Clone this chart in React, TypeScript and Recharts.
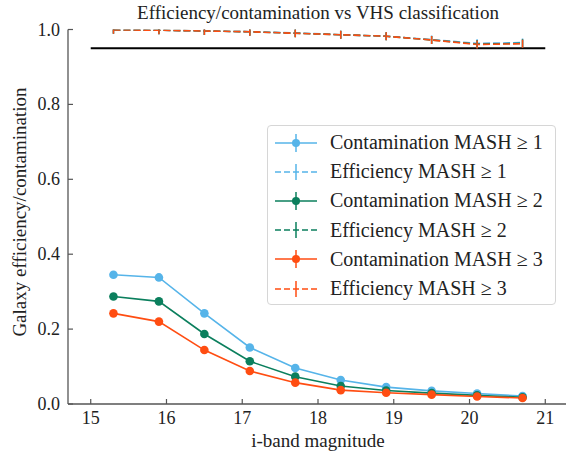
import React from "react"
import { LineChart, Line, XAxis, YAxis, ReferenceLine } from "recharts"

const magnitudes = [15.3, 15.9, 16.5, 17.1, 17.7, 18.3, 18.9, 19.5, 20.1, 20.7]
const contamination1 = [0.345, 0.338, 0.242, 0.151, 0.096, 0.064, 0.045, 0.035, 0.028, 0.021]
const contamination2 = [0.287, 0.274, 0.187, 0.114, 0.073, 0.048, 0.036, 0.029, 0.023, 0.018]
const contamination3 = [0.242, 0.22, 0.144, 0.088, 0.057, 0.037, 0.03, 0.025, 0.02, 0.016]
const efficiency1 = [0.999, 0.998, 0.996, 0.994, 0.991, 0.986, 0.982, 0.973, 0.963, 0.965]
const efficiency2 = [0.999, 0.998, 0.996, 0.994, 0.99, 0.986, 0.982, 0.972, 0.961, 0.963]
const efficiency3 = [0.999, 0.998, 0.996, 0.994, 0.99, 0.986, 0.982, 0.972, 0.96, 0.962]
const xTicks = [15, 16, 17, 18, 19, 20, 21]
const yTicks = [0, 0.2, 0.4, 0.6, 0.8, 1.0]
const threshold = 0.95

const BLUE = "#56B4E9"
const GREEN = "#0B7F5D"
const RED = "#FF4D12"
const AXIS = "#555"
const FONT = "'Liberation Serif', 'DejaVu Serif', serif"

const data = magnitudes.map((x, i) => ({
  x,
  c1: contamination1[i],
  c2: contamination2[i],
  c3: contamination3[i],
  e1: efficiency1[i],
  e2: efficiency2[i],
  e3: efficiency3[i],
}))

const series = [
  { key: "c1", name: "Contamination MASH \u2265 1", color: BLUE, dashed: false },
  { key: "e1", name: "Efficiency MASH \u2265 1", color: BLUE, dashed: true },
  { key: "c2", name: "Contamination MASH \u2265 2", color: GREEN, dashed: false },
  { key: "e2", name: "Efficiency MASH \u2265 2", color: GREEN, dashed: true },
  { key: "c3", name: "Contamination MASH \u2265 3", color: RED, dashed: false },
  { key: "e3", name: "Efficiency MASH \u2265 3", color: RED, dashed: true },
]

const BottomTick = ({ x, y, payload }: any) => (
  <g>
    <line x1={x} x2={x} y1={y} y2={y - 5} stroke={AXIS} strokeWidth={1.2} />
    <text x={x} y={y + 20} textAnchor="middle" fill="#222" fontSize={18} fontFamily={FONT}>
      {payload.value}
    </text>
  </g>
)

const TopTick = ({ x, y }: any) => (
  <line x1={x} x2={x} y1={y} y2={y + 5} stroke={AXIS} strokeWidth={1.2} />
)

const LeftTick = ({ x, y, payload }: any) => (
  <g>
    <line x1={x} x2={x + 5} y1={y} y2={y} stroke={AXIS} strokeWidth={1.2} />
    <text x={x - 8} y={y + 6} textAnchor="end" fill="#222" fontSize={18} fontFamily={FONT}>
      {Number(payload.value).toFixed(1)}
    </text>
  </g>
)

const plusDot = (color: string) => (props: any) => {
  const { cx, cy, index } = props
  return <line key={index} x1={cx} x2={cx} y1={cy - 4} y2={cy + 4} stroke={color} strokeWidth={1.5} />
}

const LegendBox = () => (
  <div
    style={{
      position: "absolute",
      left: 267,
      top: 125,
      width: 289,
      height: 180,
      boxSizing: "border-box",
      border: "1px solid #d6d6d6",
      borderRadius: 4,
      background: "rgba(255,255,255,0.85)",
      paddingTop: 2,
    }}
  >
    {series.map((s) => (
      <div key={s.key} style={{ display: "flex", alignItems: "center", height: 29.2 }}>
        <svg width={56} height={24} style={{ marginLeft: 4 }}>
          <line x1={3} x2={45} y1={12} y2={12} stroke={s.color} strokeWidth={1.6} strokeDasharray={s.dashed ? "6 3" : undefined} />
          <line x1={24} x2={24} y1={s.dashed ? 4 : 3} y2={s.dashed ? 20 : 21} stroke={s.color} strokeWidth={1.5} />
          {!s.dashed && <circle cx={24} cy={12} r={4} fill={s.color} />}
        </svg>
        <span style={{ fontFamily: FONT, fontSize: 20, color: "#222", marginLeft: 2 }}>{s.name}</span>
      </div>
    ))}
  </div>
)

export default function App() {
  return (
    <div style={{ position: "absolute", left: 0, top: 0, width: 566, height: 451, overflow: "hidden", background: "#fff" }}>
      <div
        style={{
          position: "absolute",
          left: 68,
          width: 500,
          top: 2,
          textAlign: "center",
          fontFamily: FONT,
          fontSize: 19,
          color: "#222",
        }}
      >
        Efficiency/contamination vs VHS classification
      </div>
      <div
        style={{
          position: "absolute",
          left: 68,
          width: 500,
          top: 430,
          textAlign: "center",
          fontFamily: FONT,
          fontSize: 19,
          lineHeight: "21px",
          color: "#222",
        }}
      >
        i-band magnitude
      </div>
      <div
        style={{
          position: "absolute",
          left: 21 - 150,
          top: 212 - 12,
          width: 300,
          height: 24,
          textAlign: "center",
          transform: "rotate(-90deg)",
          fontFamily: FONT,
          fontSize: 19,
          color: "#222",
        }}
      >
        Galaxy efficiency/contamination
      </div>
      <LineChart
        width={620}
        height={451}
        data={data}
        margin={{ top: 29.5, right: 52, bottom: 0, left: 8 }}
        style={{ position: "absolute", left: 0, top: 0 }}
      >
        <XAxis
          dataKey="x"
          type="number"
          domain={[14.7, 21.3]}
          ticks={xTicks}
          allowDataOverflow
          height={47}
          tickSize={0}
          tickMargin={0}
          tickLine={false}
          tick={<BottomTick />}
          axisLine={{ stroke: AXIS, strokeWidth: 1.3 }}
        />
        <XAxis
          xAxisId="top"
          orientation="top"
          dataKey="x"
          type="number"
          domain={[14.7, 21.3]}
          ticks={xTicks}
          allowDataOverflow
          height={0}
          tickSize={0}
          tickMargin={0}
          tickLine={false}
          tick={<TopTick />}
          axisLine={{ stroke: AXIS, strokeWidth: 1.3 }}
        />
        <YAxis
          type="number"
          domain={[0, 1]}
          ticks={yTicks}
          allowDataOverflow
          width={60}
          tickSize={0}
          tickMargin={0}
          tickLine={false}
          tick={<LeftTick />}
          axisLine={{ stroke: AXIS, strokeWidth: 1.3 }}
        />
        <ReferenceLine
          segment={[
            { x: 15, y: threshold },
            { x: 21, y: threshold },
          ]}
          stroke="#000"
          strokeWidth={2}
          ifOverflow="visible"
        />
        {series
          .filter((s) => !s.dashed)
          .map((s) => (
            <Line
              key={s.key}
              dataKey={s.key}
              name={s.name}
              type="linear"
              stroke={s.color}
              strokeWidth={1.6}
              dot={{ r: 4.3, fill: s.color, stroke: "none" }}
              activeDot={false}
              isAnimationActive={false}
            />
          ))}
        {series
          .filter((s) => s.dashed)
          .map((s) => (
            <Line
              key={s.key}
              dataKey={s.key}
              name={s.name}
              type="linear"
              stroke={s.color}
              strokeWidth={1.6}
              strokeDasharray="7 3"
              dot={plusDot(s.color)}
              activeDot={false}
              isAnimationActive={false}
            />
          ))}
      </LineChart>
      <LegendBox />
    </div>
  )
}
